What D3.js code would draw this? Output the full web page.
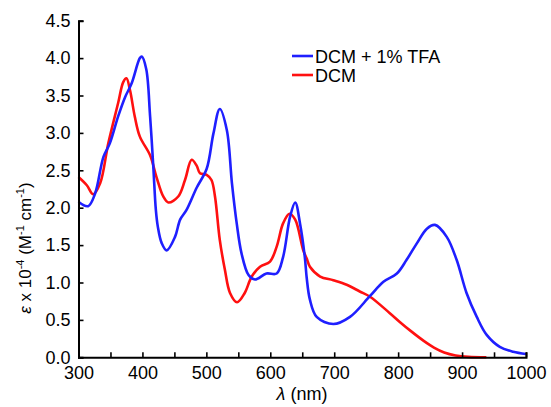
<!DOCTYPE html>
<html><head><meta charset="utf-8">
<script src="https://cdn.jsdelivr.net/npm/d3@7"></script>
<style>body{margin:0;background:#fff}svg{display:block}text{font-family:"Liberation Sans",Arial,sans-serif;fill:#000}</style>
</head><body><svg id="c" width="551" height="407"></svg>
<script>
const xTicks = [300,400,500,600,700,800,900,1000];
const yTicks = [0,0.5,1,1.5,2,2.5,3,3.5,4,4.5];
const seriesNames = ["DCM + 1% TFA","DCM"];
const seriesColors = ["#1f1fff","#ff1010"];
const tfaX = [300,315,326,339,349,362,373,383,396,399,406,412,417,421,424,430,438,451,459,469,485,500.5,511,521,532,540,547.5,555,566,576,594,610,620,631,639,646.5,654,657,662,672.6,698.6,724.7,756,777,798,813,829,845,857.6,876,891.6,907,923,938.5,959,980,1000];
const tfaY = [2.08,2.02,2.19,2.68,2.86,3.22,3.48,3.66,4.0,4.02,3.85,3.22,2.55,1.97,1.75,1.53,1.43,1.61,1.84,1.97,2.27,2.52,2.99,3.32,3.04,2.33,1.79,1.39,1.10,1.04,1.12,1.12,1.34,1.88,2.07,1.79,1.34,1.06,0.77,0.54,0.445,0.54,0.82,1.01,1.12,1.30,1.52,1.72,1.77,1.61,1.30,0.86,0.54,0.30,0.14,0.075,0.045];
const dcmX = [300,313,323,334,346.6,362,370,375,380.6,388,396,412,422,432.6,440.5,456,466.6,477,485,490,500.5,508,513.5,521,529,537,548,560,571,584,599.6,610,620,630,639,651.6,657,662,678,698.6,719.5,740,756,787,803,820,840,856,872,890,910,938];
const dcmY = [2.41,2.30,2.18,2.33,2.86,3.40,3.68,3.73,3.57,3.22,2.95,2.70,2.41,2.15,2.07,2.15,2.37,2.64,2.56,2.46,2.44,2.37,2.15,1.57,1.17,0.86,0.735,0.86,1.08,1.21,1.28,1.48,1.79,1.92,1.84,1.43,1.32,1.21,1.08,1.03,0.97,0.88,0.81,0.59,0.47,0.35,0.22,0.13,0.065,0.025,0.006,0];

const svg = d3.select("#c");
const x = d3.scaleLinear().domain([300,1000]).range([78.5,526]);
const y = d3.scaleLinear().domain([0,4.5]).range([357.3,20.7]);

const line = d3.line().x(d=>x(d[0])).y(d=>y(d[1])).curve(d3.curveCatmullRom.alpha(0.5));
const sets = [d3.zip(tfaX,tfaY), d3.zip(dcmX,dcmY)];
[1,0].forEach(i=>{
  svg.append("path").attr("d",line(sets[i])).attr("fill","none")
    .attr("stroke",seriesColors[i]).attr("stroke-width",2.6).attr("stroke-linejoin","round");
});

// axes
const xa = svg.append("g").attr("transform",`translate(0,${y(0)})`)
  .call(d3.axisBottom(x).tickValues(d3.range(300,1001,50)).tickSize(-5).tickFormat(d=>xTicks.includes(d)?d:""));
const ya = svg.append("g").attr("transform",`translate(${x(300)},0)`)
  .call(d3.axisLeft(y).tickValues(yTicks).tickSize(-5).tickFormat(d3.format(".1f")));
[xa,ya].forEach(g=>{
  g.select(".domain").attr("stroke","#000").attr("stroke-width",2);
  g.selectAll(".tick line").attr("stroke","#000").attr("stroke-width",1.6);
  g.selectAll(".tick text").style("font-size","18px").attr("fill","#000");
});
xa.selectAll(".tick text").attr("dy","1.05em");
ya.selectAll(".tick text").attr("x",-8);

// axis titles
const xt = svg.append("text").attr("x",302).attr("y",400).attr("text-anchor","middle").style("font-size","18px");
xt.append("tspan").style("font-style","italic").text("λ");
xt.append("tspan").text(" (nm)");

const yt = svg.append("text").attr("transform","translate(31,248) rotate(-90)").attr("text-anchor","middle").style("font-size","17px");
yt.append("tspan").style("font-style","italic").text("ε");
yt.append("tspan").text(" x 10");
yt.append("tspan").attr("dy",-7).style("font-size","11px").text("-4");
yt.append("tspan").attr("dy",7).text(" (M");
yt.append("tspan").attr("dy",-7).style("font-size","11px").text("-1");
yt.append("tspan").attr("dy",7).text(" cm");
yt.append("tspan").attr("dy",-7).style("font-size","11px").text("-1");
yt.append("tspan").attr("dy",7).text(")");

// legend
seriesNames.forEach((n,i)=>{
  const ly = 56 + i*19;
  svg.append("line").attr("x1",292).attr("x2",313).attr("y1",ly).attr("y2",ly)
    .attr("stroke",seriesColors[i]).attr("stroke-width",2.6);
  svg.append("text").attr("x",315).attr("y",ly+6.5).style("font-size","18px").text(n);
});
</script></body></html>
